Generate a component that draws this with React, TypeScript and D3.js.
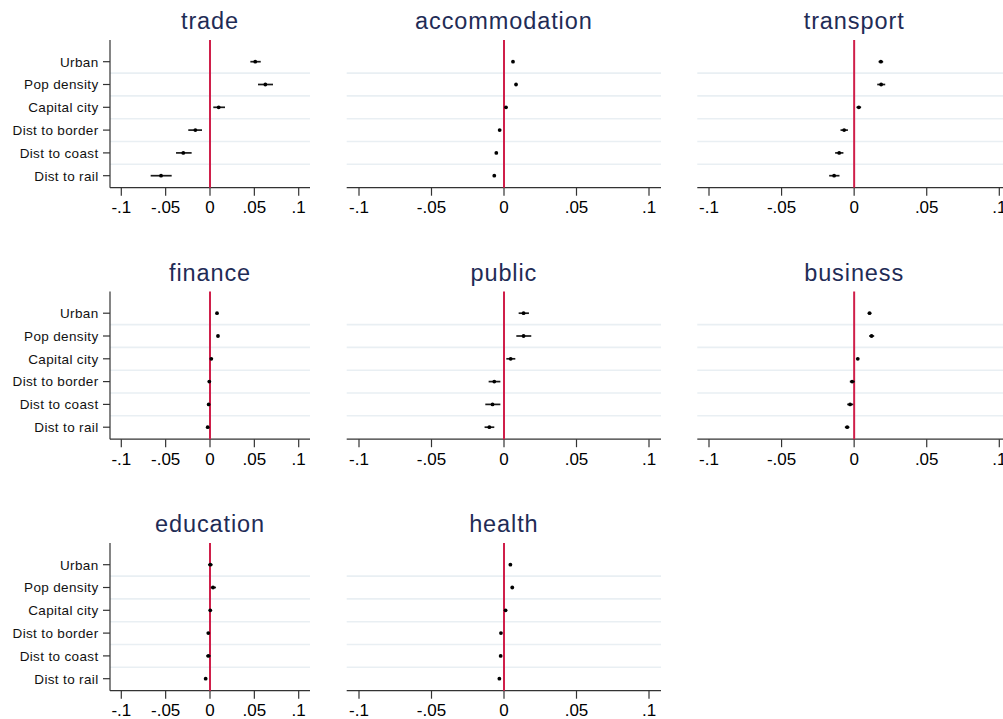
import React from "react";
import * as d3 from "d3";

// Covariates shown on every panel, top to bottom
const covariates = ["Urban", "Pop density", "Capital city", "Dist to border", "Dist to coast", "Dist to rail"];

// Panel titles, in reading order
const sectors = ["trade", "accommodation", "transport", "finance", "public", "business", "education", "health"];

// Coefficient estimates with [estimate, lower, upper] per covariate
const trade = [
  [0.051, 0.0455, 0.0572],
  [0.0624, 0.0541, 0.071],
  [0.0098, 0.0037, 0.0169],
  [-0.0165, -0.0245, -0.009],
  [-0.0301, -0.0383, -0.0207],
  [-0.0552, -0.0669, -0.0432],
];
const accommodation = [
  [0.0062, 0.0055, 0.0069],
  [0.0083, 0.0076, 0.009],
  [0.0014, 0.0008, 0.002],
  [-0.003, -0.0037, -0.0023],
  [-0.0053, -0.006, -0.0046],
  [-0.0067, -0.0075, -0.0059],
];
const transport = [
  [0.0184, 0.0168, 0.02],
  [0.0186, 0.0159, 0.0214],
  [0.0032, 0.0016, 0.0048],
  [-0.0069, -0.0094, -0.0043],
  [-0.0103, -0.0131, -0.0074],
  [-0.0138, -0.0172, -0.0101],
];
const finance = [
  [0.0079, 0.0071, 0.0087],
  [0.009, 0.0082, 0.0098],
  [0.0015, 0.0007, 0.0023],
  [-0.0008, -0.0016, 0.0],
  [-0.0015, -0.0024, -0.0006],
  [-0.0026, -0.0035, -0.0017],
];
const publicSector = [
  [0.0135, 0.0101, 0.0172],
  [0.0135, 0.0085, 0.0188],
  [0.0046, 0.0016, 0.0078],
  [-0.0067, -0.0106, -0.0025],
  [-0.0079, -0.0129, -0.0025],
  [-0.0101, -0.0134, -0.0067],
];
const business = [
  [0.0106, 0.0094, 0.0118],
  [0.012, 0.0103, 0.0138],
  [0.0025, 0.0018, 0.0032],
  [-0.0014, -0.003, 0.0005],
  [-0.0028, -0.0048, -0.0006],
  [-0.0048, -0.0064, -0.0033],
];
const education = [
  [0.0004, -0.0023, 0.003],
  [0.0034, 0.0008, 0.0068],
  [0.0003, -0.0008, 0.0012],
  [-0.0019, -0.0035, -0.0003],
  [-0.0019, -0.0042, 0.0008],
  [-0.0049, -0.0058, -0.004],
];
const health = [
  [0.0044, 0.0038, 0.005],
  [0.0057, 0.0051, 0.0063],
  [0.0011, 0.0005, 0.0017],
  [-0.0021, -0.0027, -0.0015],
  [-0.0023, -0.0029, -0.0017],
  [-0.0032, -0.0039, -0.0025],
];

const panelData = [trade, accommodation, transport, finance, publicSector, business, education, health];

// X axis ticks
const tickValues = [-0.1, -0.05, 0, 0.05, 0.1];
const tickLabels = ["-.1", "-.05", "0", ".05", ".1"];

const W = 1003;
const H = 719;
const FONT = "'Liberation Sans', Arial, Helvetica, sans-serif";
const TITLE_COLOR = "#1f2c56";
const ZERO_COLOR = "#cf1f4a";
const GRID_COLOR = "#e9eff3";
const AXIS_COLOR = "#333333";

// Horizontal geometry per column: where -.1 and .1 fall, and plot extent
const columns = [
  { r0: 121.3, r1: 298.7, left: 110, right: 310, labels: true },
  { r0: 359, r1: 649, left: 346.7, right: 661, labels: false },
  { r0: 709, r1: 999.3, left: 697.3, right: 1012, labels: false },
];
const ROW_STEP = 251.5;

function Panel({ index }: { index: number }) {
  const col = columns[index % 3];
  const off = Math.floor(index / 3) * ROW_STEP;
  const data = panelData[index];

  const x = d3.scaleLinear().domain([-0.1, 0.1]).range([col.r0, col.r1]);
  const y = d3.scalePoint<string>().domain(covariates).range([61.7 + off, 175.7 + off]);
  const step = y.step();
  const top = 40 + off;
  const axisY = 187.7 + off;
  const cx = (col.left + col.right) / 2;
  const titleX = index % 3 === 2 ? x(0) : cx;

  return (
    <g>
      <text
        x={titleX}
        y={29.3 + off}
        textAnchor="middle"
        fontSize={23.5}
        letterSpacing={0.9}
        fill={TITLE_COLOR}
        fontFamily={FONT}
      >
        {sectors[index]}
      </text>
      {/* grid lines between covariates */}
      {covariates.slice(1).map((c) => (
        <line key={c} x1={col.left} x2={col.right} y1={(y(c) as number) - step / 2} y2={(y(c) as number) - step / 2} stroke={GRID_COLOR} strokeWidth={1.6} />
      ))}
      {/* y axis with covariate labels */}
      {col.labels && (
        <g>
          <line x1={col.left} x2={col.left} y1={top} y2={axisY} stroke={AXIS_COLOR} strokeWidth={1.2} />
          {covariates.map((c) => (
            <g key={c}>
              <line x1={col.left - 7} x2={col.left} y1={y(c)} y2={y(c)} stroke={AXIS_COLOR} strokeWidth={1.2} />
              <text
                x={col.left - 11.5}
                y={(y(c) as number) + 4.8}
                textAnchor="end"
                fontSize={13.5}
                letterSpacing={0.35}
                fill="#111"
                fontFamily={FONT}
              >
                {c}
              </text>
            </g>
          ))}
        </g>
      )}
      {/* x axis */}
      <line x1={col.left} x2={col.right} y1={axisY} y2={axisY} stroke={AXIS_COLOR} strokeWidth={1.2} />
      {tickValues.map((t, i) => (
        <g key={t}>
          <line x1={x(t)} x2={x(t)} y1={axisY} y2={axisY + 8} stroke={AXIS_COLOR} strokeWidth={1.2} />
          <text x={x(t)} y={axisY + 25.5} textAnchor="middle" fontSize={17} fill="#000" fontFamily={FONT}>
            {tickLabels[i]}
          </text>
        </g>
      ))}
      {/* reference line at zero */}
      <line x1={x(0)} x2={x(0)} y1={top} y2={axisY} stroke={ZERO_COLOR} strokeWidth={2} />
      {/* confidence intervals and point estimates */}
      {data.map((d, i) => {
        const yy = y(covariates[i]) as number;
        return (
          <g key={i}>
            <line x1={x(d[1])} x2={x(d[2])} y1={yy} y2={yy} stroke="#1a1a1a" strokeWidth={1.7} />
            <circle cx={x(d[0])} cy={yy} r={1.9} fill="#000" />
          </g>
        );
      })}
    </g>
  );
}

export default function App() {
  return (
    <svg
      width={W}
      height={H}
      viewBox={`0 0 ${W} ${H}`}
      style={{ position: "absolute", left: 0, top: 0, background: "#fff" }}
    >
      <rect width={W} height={H} fill="#fff" />
      {sectors.map((s, i) => (
        <Panel key={s} index={i} />
      ))}
    </svg>
  );
}
